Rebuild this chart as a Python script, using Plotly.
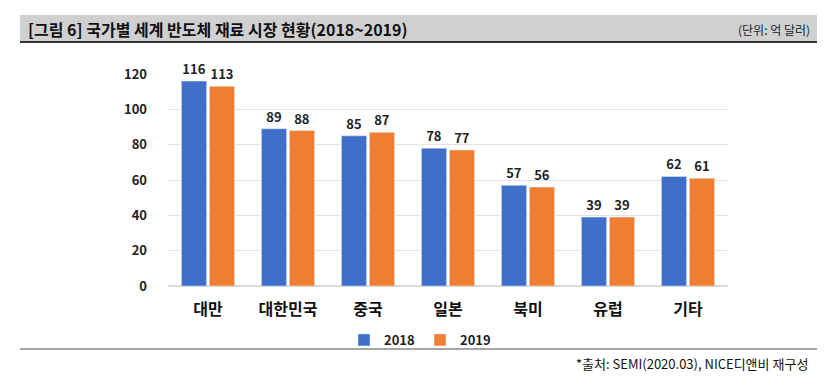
import plotly.graph_objects as go

categories = ["대만", "대한민국", "중국", "일본", "북미", "유럽", "기타"]
values_2018 = [116, 89, 85, 78, 57, 39, 62]
values_2019 = [113, 88, 87, 77, 56, 39, 61]
series_names = ["2018", "2019"]
y_ticks = [0, 20, 40, 60, 80, 100, 120]

OFF = 8  # page body margin
W, H = 837 - OFF, 389 - OFF
L, R, T, B = 168 - OFF, 728 - OFF, 74 - OFF, 286 - OFF  # plot area pixel box

def px(x):
    return (x - OFF - L) / (R - L)

def py(y):
    return (B - (y - OFF)) / (B - T)

FONT = "Noto Sans CJK KR"

fig = go.Figure()
fig.add_trace(go.Bar(
    x=categories, y=values_2018, name=series_names[0],
    marker=dict(color="#3F6FC8"),
    text=[str(v) for v in values_2018], textposition="outside",
    textfont=dict(family=FONT, size=13, color="#222222", weight="bold"),
    cliponaxis=False,
))
fig.add_trace(go.Bar(
    x=categories, y=values_2019, name=series_names[1],
    marker=dict(color="#F07E30"),
    text=[str(v) for v in values_2019], textposition="outside",
    textfont=dict(family=FONT, size=13, color="#222222", weight="bold"),
    cliponaxis=False,
))

fig.update_layout(
    width=W, height=H,
    margin=dict(l=L, r=W - R, t=T, b=H - B),
    paper_bgcolor="white", plot_bgcolor="white",
    barmode="group", bargap=0.3, bargroupgap=0.1,
    font=dict(family=FONT, color="#222222"),
    showlegend=True,
    legend=dict(orientation="h", x=px(420), y=py(340), xanchor="center", yanchor="middle",
                bgcolor="rgba(0,0,0,0)",
                font=dict(family=FONT, size=13, color="#222222", weight="bold"),
                itemwidth=30, traceorder="normal"),
    xaxis=dict(showgrid=False, showline=False, ticks="", ticklabelstandoff=12,
               tickfont=dict(family=FONT, size=16, color="#111111", weight="bold")),
    yaxis=dict(range=[0, 120], tickvals=y_ticks, showgrid=True, gridcolor="#E3E3E3",
               zeroline=True, zerolinecolor="#D9D9D9", showline=False, ticks="",
               ticklabelstandoff=20,
               tickfont=dict(family=FONT, size=13, color="#222222", weight="bold")),
    shapes=[
        dict(type="rect", xref="paper", yref="paper", x0=px(20), x1=px(817), y0=py(42), y1=py(15),
             fillcolor="#D0D0D0", line=dict(width=0), layer="below"),
        dict(type="line", xref="paper", yref="paper", x0=px(20), x1=px(817), y0=py(42), y1=py(42),
             line=dict(color="#333333", width=2)),
        dict(type="line", xref="paper", yref="paper", x0=px(20), x1=px(817), y0=py(349), y1=py(349),
             line=dict(color="#888888", width=1.5)),
    ],
    annotations=[
        dict(text="<b>[그림 6] 국가별 세계 반도체 재료 시장 현황(2018~2019)</b>", xref="paper", yref="paper",
             x=px(26), y=py(29), xanchor="left", yanchor="middle", showarrow=False,
             font=dict(family=FONT, size=16, color="#111111")),
        dict(text="(단위: 억 달러)", xref="paper", yref="paper",
             x=px(812), y=py(29), xanchor="right", yanchor="middle", showarrow=False,
             font=dict(family=FONT, size=12, color="#222222")),
        dict(text="*출처: SEMI(2020.03), NICE디앤비 재구성", xref="paper", yref="paper",
             x=px(810), y=py(363), xanchor="right", yanchor="middle", showarrow=False,
             font=dict(family=FONT, size=13, color="#111111")),
    ],
)

fig.write_html("out.html")
